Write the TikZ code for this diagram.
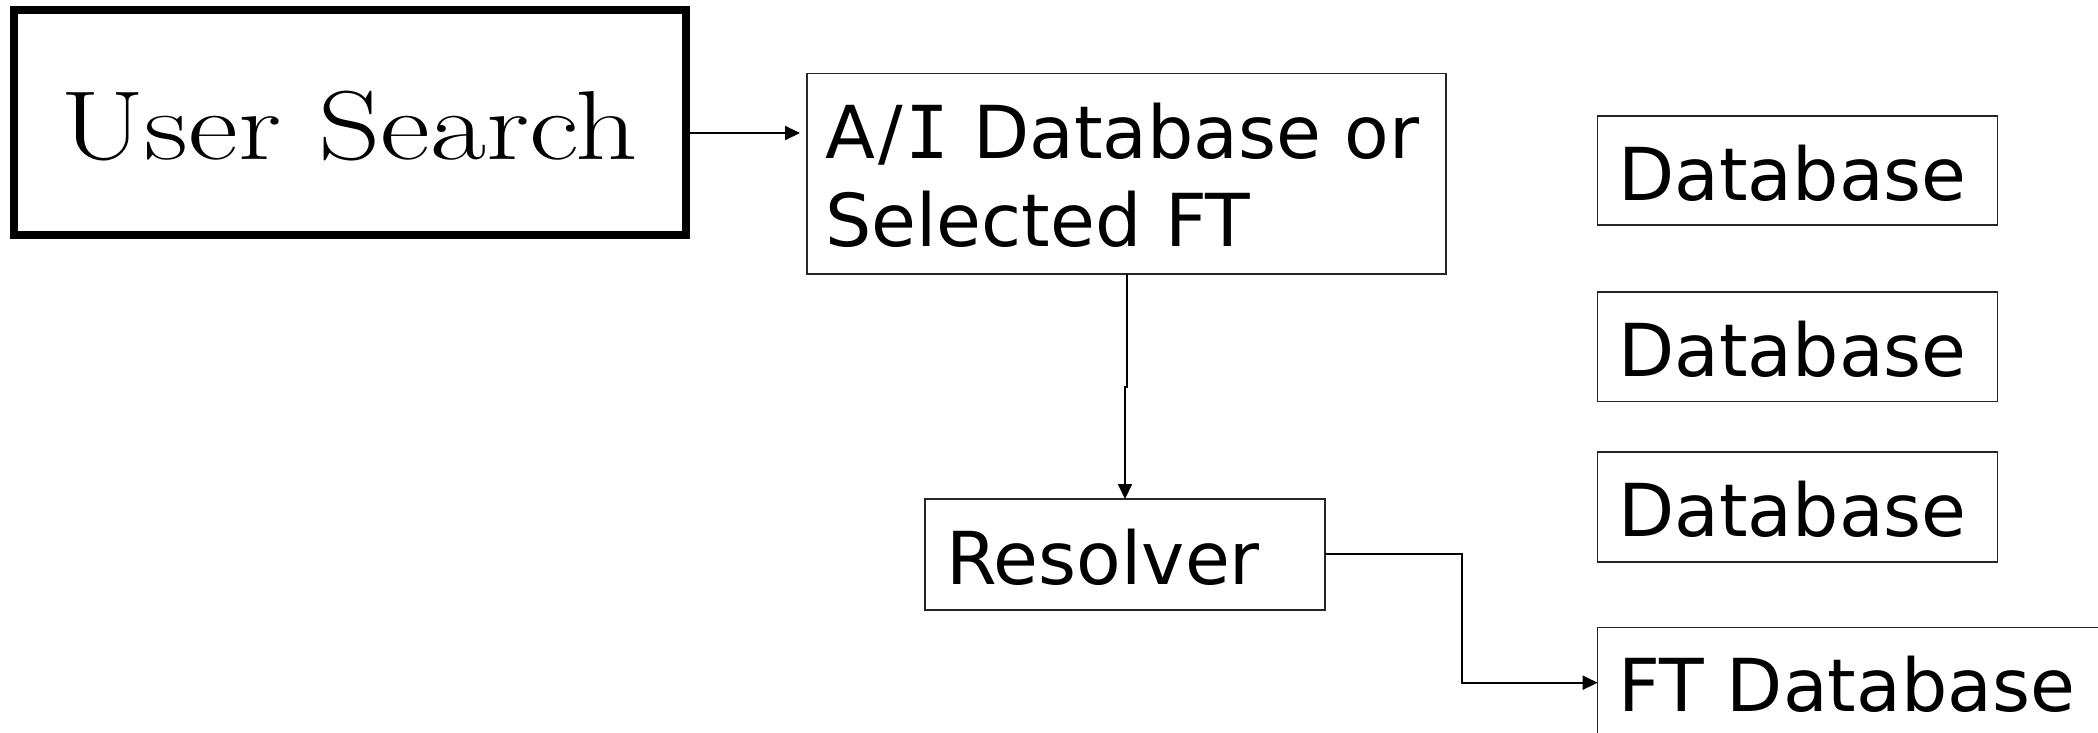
\documentclass[tikz,border=0pt]{standalone}
\usepackage{fontspec}
\newfontfamily\dv{DejaVu Sans}
\newfontfamily\dvm{DejaVu Sans Mono}
\usetikzlibrary{arrows.meta}
\begin{document}
\begin{tikzpicture}[x=0.5pt,y=-0.5pt,
  box/.style={draw=black!85, line width=0.6pt, rectangle, inner sep=0pt, outer sep=0pt, anchor=north west},
  bigbox/.style={draw=black, line width=4pt, rectangle, inner sep=0pt, outer sep=0pt, anchor=north west},
  conn/.style={line width=1pt, draw=black},
  tip/.style={-{Triangle[length=7.5pt,width=7pt]}},
  lbl/.style={anchor=base west, inner sep=0pt, font=\dv\fontsize{36.5}{44}\selectfont, align=left},
  serif/.style={anchor=base west, inner sep=0pt}
]
\useasboundingbox (0,0) rectangle (2098,733);
% boxes
\node[bigbox, minimum width=336pt, minimum height=112.25pt] (user) at (13.7,10) {};
\node[box, minimum width=319.5pt, minimum height=100.2pt] (ai) at (807,73.6) {};
\node[box, minimum width=200pt, minimum height=55.5pt] (res) at (925,499) {};
\node[box, minimum width=200pt, minimum height=54.5pt] (db1) at (1597.6,116) {};
\node[box, minimum width=200pt, minimum height=54.75pt] (db2) at (1597.6,292) {};
\node[box, minimum width=200pt, minimum height=55pt] (db3) at (1597.6,452) {};
\node[box, minimum width=260pt, minimum height=65pt] (ft) at (1597.6,627.7) {};
% texts
\node[serif] (usert) at (60,159) {\scalebox{1.245}[1]{\fontsize{49}{58}\selectfont User Search}};
\node[lbl] (ait1) at (825,158) {A\kern1.5pt/\kern1.5pt{\dvm I} Database or};
\node[lbl] (ait2) at (825,246) {Selected FT};
\node[lbl] (rest) at (946,584) {Resolver};
\node[lbl] (db1t) at (1618,200) {Database};
\node[lbl] (db2t) at (1618,376) {Database};
\node[lbl] (db3t) at (1618,536) {Database};
\node[lbl] (ftt) at (1618,711) {FT Database};
% connectors
\coordinate (a1) at (0,133);
\draw[conn,tip] (user.east |- a1) ++(4,0) coordinate (a0) (a0) -- ([xshift=-3.5pt]ai.west |- a1);
\coordinate (k1) at (1127,387);
\coordinate (k2) at (1125,387);
\draw[conn,tip] (ai.south -| k1) -- (k1) -- (k2) -- (res.north -| k2);
\coordinate (r1) at (1461.7,554);
\coordinate (r2) at (1461.7,682.7);
\draw[conn,tip] (res.east |- r1) -- (r1) -- (r2) -- (ft.west |- r2);
\end{tikzpicture}
\end{document}
